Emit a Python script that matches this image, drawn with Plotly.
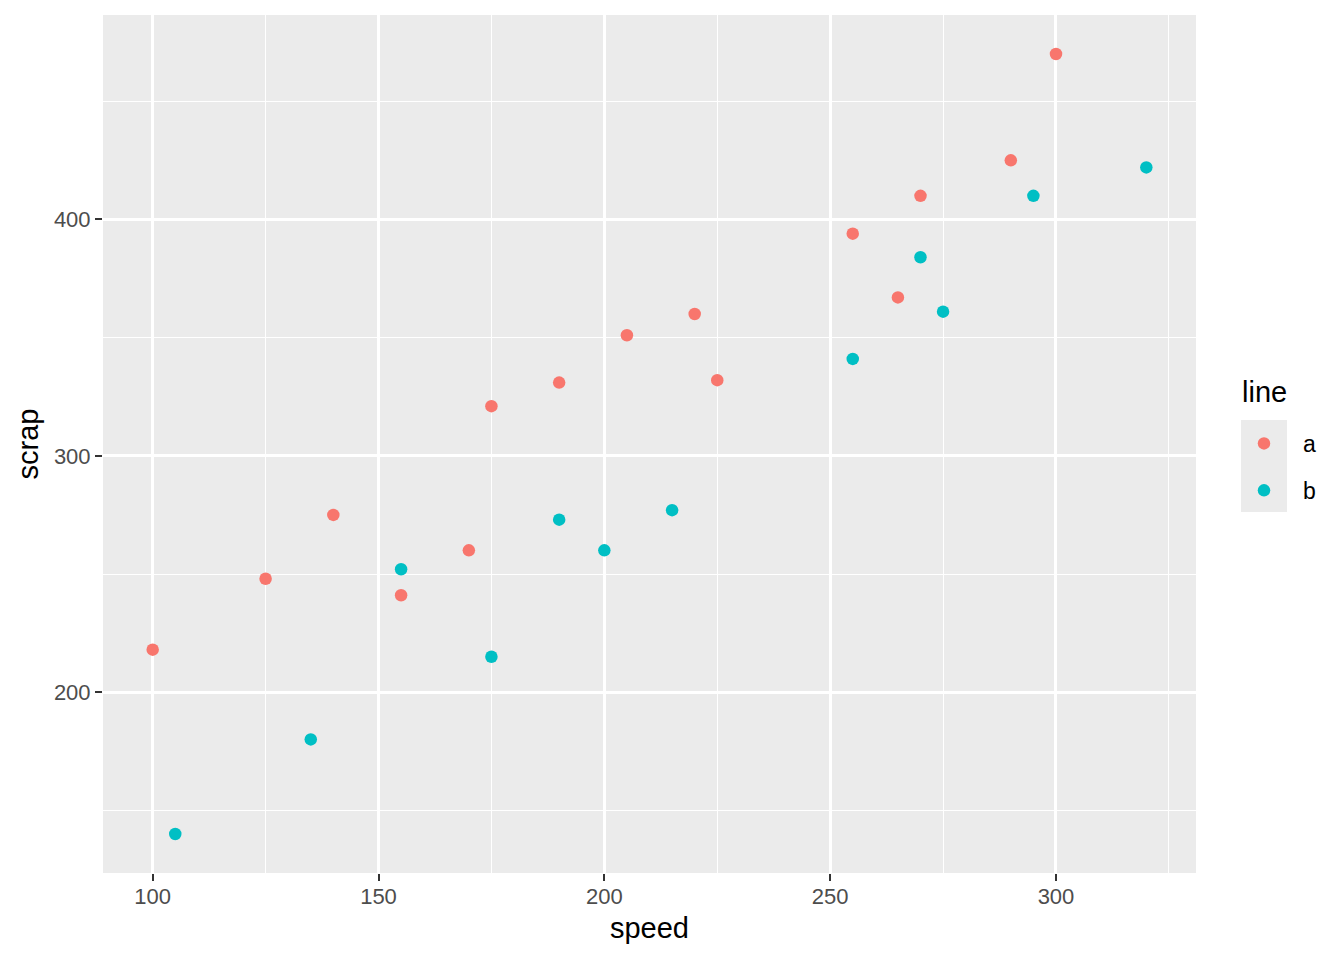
import plotly.graph_objects as go

speed_a = [100, 125, 220, 205, 300, 255, 225, 175, 270, 170, 155, 190, 140, 290, 265]
scrap_a = [218, 248, 360, 351, 470, 394, 332, 321, 410, 260, 241, 331, 275, 425, 367]
speed_b = [105, 215, 270, 255, 175, 135, 200, 275, 155, 320, 190, 295]
scrap_b = [140, 277, 384, 341, 215, 180, 260, 361, 252, 422, 273, 410]
x_ticks = [100, 150, 200, 250, 300]
y_ticks = [200, 300, 400]

font = "Liberation Sans, Arial, sans-serif"
# page body has an 8px margin; compensate so the figure fills 1344x960
W, H = 1336, 952
L, R, T, B = 95, 148, 7, 87
PW, PH = W - L - R, H - T - B

def px_x(p):  # window pixel -> paper x
    return (p - 8 - L) / PW

def px_y(p):  # window pixel -> paper y
    return (H - B - (p - 8)) / PH

fig = go.Figure()
fig.add_trace(go.Scatter(x=speed_a, y=scrap_a, mode="markers", name="a", legendgroup="a",
                         marker=dict(color="#F8766D", size=12.5)))
fig.add_trace(go.Scatter(x=speed_b, y=scrap_b, mode="markers", name="b", legendgroup="b",
                         marker=dict(color="#00BFC4", size=12.5)))

axis_common = dict(
    showline=False, zeroline=False, gridcolor="white", gridwidth=2.5,
    ticks="outside", ticklen=7, tickwidth=2, tickcolor="#333333",
    tickfont=dict(family=font, size=22, color="#4D4D4D"),
)
fig.update_xaxes(range=[89, 331], tickvals=x_ticks, ticklabelstandoff=-3,
                 title=dict(text="speed", font=dict(family=font, size=29, color="black"), standoff=9),
                 minor=dict(dtick=25, tick0=0, gridcolor="white", gridwidth=1.2, ticks=""), **axis_common)
fig.update_yaxes(range=[123.5, 486.5], tickvals=y_ticks,
                 title=dict(text="scrap", font=dict(family=font, size=29, color="black"), standoff=6),
                 minor=dict(dtick=50, tick0=0, gridcolor="white", gridwidth=1.2, ticks=""), **axis_common)

# legend key background
fig.add_shape(type="rect", xref="paper", yref="paper",
              x0=px_x(1241), x1=px_x(1287), y0=px_y(512), y1=px_y(420),
              fillcolor="#EBEBEB", line=dict(width=0), layer="below")
fig.add_annotation(text="line", xref="paper", yref="paper", x=px_x(1240), y=px_y(392),
                   xanchor="left", yanchor="middle", showarrow=False,
                   font=dict(family=font, size=29, color="black"))

fig.update_layout(
    width=W, height=H,
    margin=dict(l=L, r=R, t=T, b=B),
    plot_bgcolor="#EBEBEB", paper_bgcolor="white",
    font=dict(family=font),
    legend=dict(font=dict(family=font, size=23, color="black"),
                x=px_x(1225), xanchor="left", y=px_y(467), yanchor="middle",
                bgcolor="rgba(0,0,0,0)", tracegroupgap=14, itemwidth=68),
)
fig.write_html("out.html")
